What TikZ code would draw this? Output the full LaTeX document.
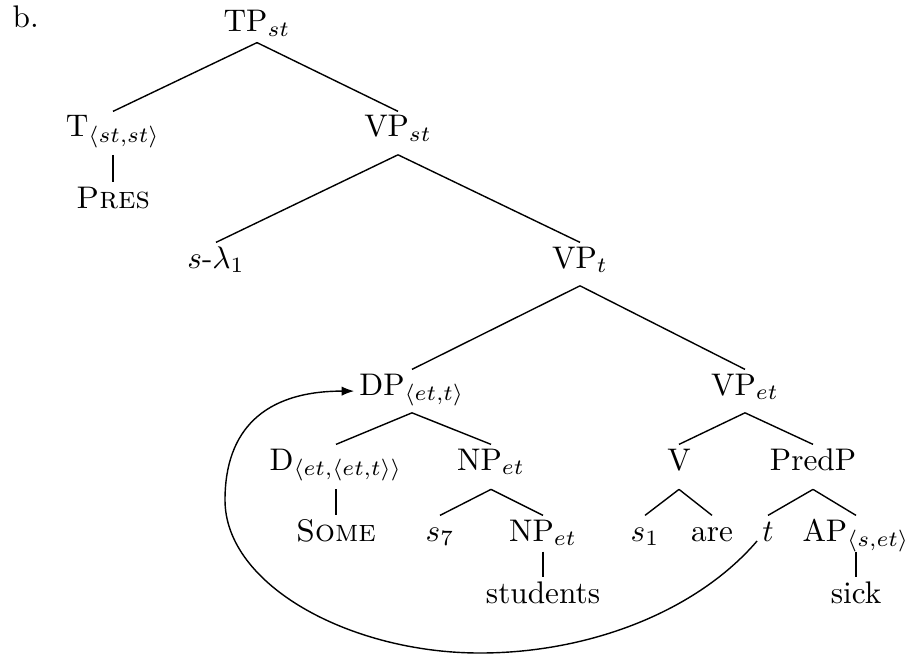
\documentclass[tikz,border=0pt]{standalone}
\usetikzlibrary{arrows.meta}
\begin{document}
\begin{tikzpicture}[x=0.32pt,y=-0.32pt,
  n/.style={anchor=base,inner xsep=1.5pt,inner ysep=1.5pt,text height=6.5pt,text depth=#1},
  n/.default=4pt,
  br/.style={line width=0.45pt},
  un/.style={line width=0.9pt},
  mv/.style={line width=0.45pt,-{Latex[length=4pt,width=3pt]}}]
\useasboundingbox (0,0) rectangle (905,655);
% label
\node[anchor=base west,inner sep=0pt] (lab) at (12,28) {b.};
% row 0
\node[n=1.7pt] (TP) at (257,32) {TP$_{st}$};
% row 1
\node[n] (T) at (113,137) {T$_{\langle st,st\rangle}$};
\node[n] (VPst) at (398,137) {VP$_{st}$};
\node[n] (Pres) at (113,208) {\textsc{Pres}};
% row 2
\node[n] (sl) at (216,268) {$s$-$\lambda_1$};
\node[n] (VPt) at (580,268) {VP$_{t}$};
% row 3
\node[n] (DP) at (412,395) {DP$_{\langle et,t\rangle}$};
\node[n] (VPet) at (745,395) {VP$_{et}$};
% row 4
\node[n=4.5pt] (D) at (336,470) {D$_{\langle et,\langle et,t\rangle\rangle}$};
\node[n=4.5pt] (NPa) at (491,470) {NP$_{et}$};
\node[n=4.5pt] (V) at (679,470) {V};
\node[n=4.5pt] (PredP) at (813,470) {PredP};
% row 5
\node[n=1.7pt] (Some) at (336,541) {\textsc{Some}};
\node[n=1.7pt] (s7) at (440,541) {$s_7$};
\node[n=1.7pt] (NPb) at (543,541) {NP$_{et}$};
\node[n=1.7pt] (s1) at (645,541) {$s_1$};
\node[n=1.7pt] (are) at (712,541) {are};
\node[n=1.7pt] (t) at (768,541) {$t$};
\node[n=1.7pt] (AP) at (856,541) {AP$_{\langle s,et\rangle}$};
% row 6
\node[n] (students) at (543,603) {students};
\node[n] (sick) at (856,603) {sick};
% branches
\draw[br] (TP.south) -- (T.north);
\draw[br] (TP.south) -- (VPst.north);
\draw[un] (T.south) -- (Pres.north);
\draw[br] (VPst.south) -- (sl.north);
\draw[br] (VPst.south) -- (VPt.north);
\draw[br] (VPt.south) -- (DP.north);
\draw[br] (VPt.south) -- (VPet.north);
\draw[br] (DP.south) -- (D.north);
\draw[br] (DP.south) -- (NPa.north);
\draw[br] (VPet.south) -- (V.north);
\draw[br] (VPet.south) -- (PredP.north);
\draw[un] (D.south) -- (Some.north);
\draw[br] (NPa.south) -- (s7.north);
\draw[br] (NPa.south) -- (NPb.north);
\draw[br] (V.south) -- (s1.north);
\draw[br] (V.south) -- (are.north);
\draw[br] (PredP.south) -- (t.north);
\draw[br] (PredP.south) -- (AP.north);
\draw[un] (NPb.south) -- (students.north);
\draw[un] (AP.south) -- (sick.north);
% movement arrow
\coordinate (B) at (480,653);
\coordinate (L) at (225,500);
\draw[mv] (t.base west) .. controls +(-60,70) and +(110,0) .. (B)
  .. controls +(-130,0) and +(0,85) .. (L)
  .. controls +(0,-70) and +(-90,0) .. (DP.west);
\end{tikzpicture}
\end{document}
